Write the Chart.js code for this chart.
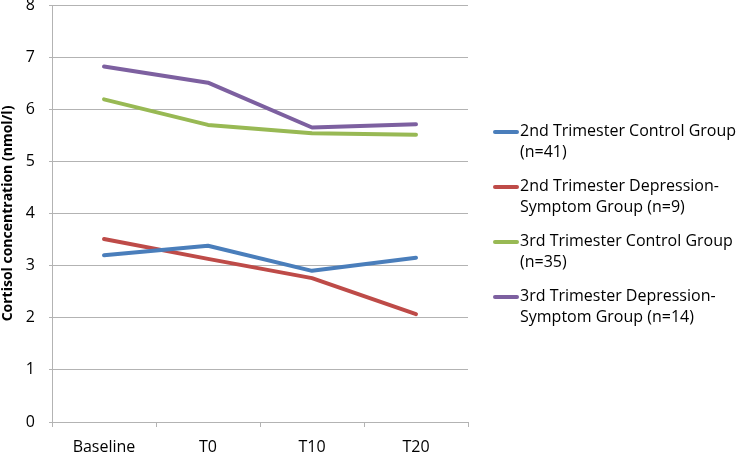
<!DOCTYPE html>
<html>
<head>
<meta charset="utf-8">
<script src="https://cdn.jsdelivr.net/npm/chart.js@4"></script>
<style>
  body { margin: 0; background: #fff; }
  #wrap { position: relative; width: 742px; height: 454px; }
  #legend { position: absolute; left: 493px; top: 120px; font-family: "Open Sans", sans-serif; font-size: 16px; color: #000; }
  .item { position: relative; height: 55px; }
  .swatch { position: absolute; left: 0; top: 10px; width: 26px; height: 4px; border-radius: 2px; }
  .text { position: absolute; left: 27px; top: 0; line-height: 21px; white-space: nowrap; }
</style>
</head>
<body>
<div id="wrap">
  <canvas id="chart" width="742" height="454"></canvas>
  <div id="legend"></div>
</div>
<script>
// chart data
const categories = ['Baseline', 'T0', 'T10', 'T20'];
const secondControl = [3.20, 3.38, 2.90, 3.15];
const secondDepression = [3.51, 3.13, 2.76, 2.07];
const thirdControl = [6.19, 5.70, 5.54, 5.51];
const thirdDepression = [6.82, 6.51, 5.65, 5.71];
const seriesNames = [
    ['2nd Trimester Control Group', '(n=41)'],
    ['2nd Trimester Depression-', 'Symptom Group (n=9)'],
    ['3rd Trimester Control Group', '(n=35)'],
    ['3rd Trimester Depression-', 'Symptom Group (n=14)']
];
const seriesColors = ['#4a7ebb', '#be4b48', '#98b954', '#7d60a0'];
const yTicks = [0, 1, 2, 3, 4, 5, 6, 7, 8];

const allValues = [secondControl, secondDepression, thirdControl, thirdDepression];

const ctx = document.getElementById('chart');

new Chart(ctx, {
    type: 'line',
    data: {
        labels: categories,
        datasets: allValues.map((vals, i) => ({
            label: seriesNames[i].join(' '),
            data: vals,
            borderColor: seriesColors[i],
            backgroundColor: seriesColors[i],
            borderWidth: 4,
            pointRadius: 0,
            tension: 0,
            borderCapStyle: 'round',
            borderJoinStyle: 'round'
        }))
    },
    options: {
        responsive: false,
        animation: false,
        layout: { padding: { top: 5, right: 274, left: 0, bottom: 0 } },
        plugins: {
            legend: { display: false },
            tooltip: { enabled: false }
        },
        scales: {
            x: {
                offset: true,
                grid: { offset: true, drawOnChartArea: false, tickLength: 5, color: '#b3b3b3' },
                border: { color: '#b3b3b3', width: 1 },
                ticks: { color: '#000', padding: 11, font: { family: 'Open Sans', size: 16 } },
                afterFit: scale => {
                    scale.height = 32;
                    scale.paddingLeft = 0;
                    scale.paddingRight = 0;
                }
            },
            y: {
                min: 0,
                max: 8,
                afterBuildTicks: scale => { scale.ticks = yTicks.map(v => ({ value: v })); },
                grid: { color: '#b3b3b3', tickLength: 3 },
                border: { color: '#b3b3b3', width: 1 },
                ticks: { color: '#000', padding: 14, font: { family: 'Open Sans', size: 16 } },
                title: {
                    display: true,
                    text: 'Cortisol concentration (nmol/l)',
                    color: '#000',
                    padding: 0,
                    font: { family: 'Open Sans', size: 14, weight: 'bold' }
                },
                afterFit: scale => {
                    scale.width = 52;
                    scale.paddingTop = 0;
                    scale.paddingBottom = 0;
                }
            }
        }
    }
});

// legend on the right
const legend = document.getElementById('legend');
seriesNames.forEach((lines, i) => {
    const item = document.createElement('div');
    item.className = 'item';
    item.innerHTML = `<div class="swatch" style="background:${seriesColors[i]}"></div>
        <div class="text">${lines.join('<br>')}</div>`;
    legend.appendChild(item);
});
</script>
</body>
</html>
